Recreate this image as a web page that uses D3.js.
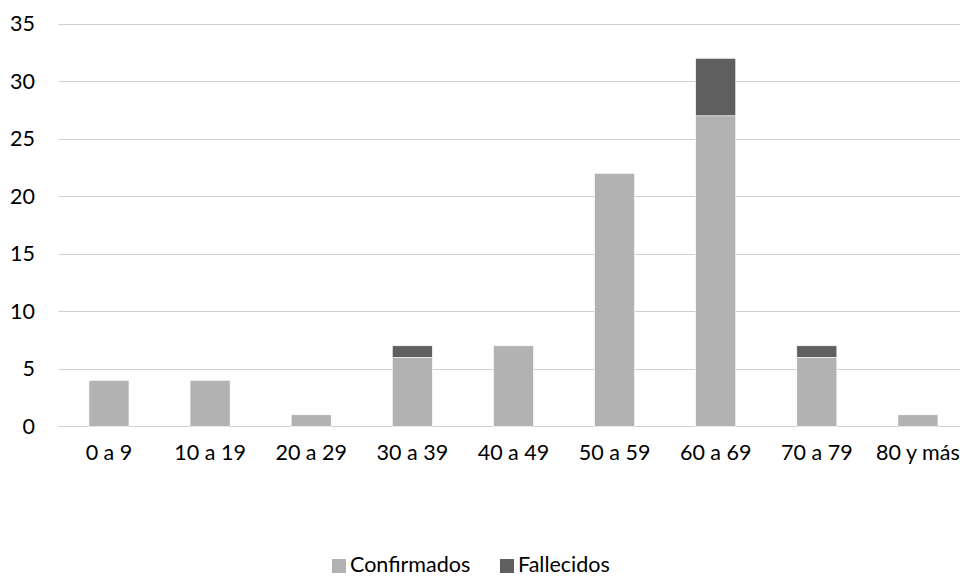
<!DOCTYPE html>
<html>
<head>
<meta charset="utf-8">
<script src="https://cdn.jsdelivr.net/npm/d3@7"></script>
<style>
  html, body { margin: 0; padding: 0; background: #fff; overflow: hidden; }
  svg { display: block; }
  text { font-family: Lato, "Open Sans", sans-serif; fill: #000; }
</style>
</head>
<body>
<svg id="chart" width="960" height="576"></svg>
<script>
const categories = ["0 a 9", "10 a 19", "20 a 29", "30 a 39", "40 a 49", "50 a 59", "60 a 69", "70 a 79", "80 y más"];
const confirmados = [4, 4, 1, 6, 7, 22, 27, 6, 1];
const fallecidos = [0, 0, 0, 1, 0, 0, 5, 1, 0];
const seriesNames = ["Confirmados", "Fallecidos"];
const seriesColors = ["#b2b2b2", "#5f5f5f"];
const yTicks = [0, 5, 10, 15, 20, 25, 30, 35];

const svg = d3.select("#chart");
const fontSize = 21.5;

const x = d3.scaleBand().domain(categories).range([58.4, 968.5]).paddingInner(0.604).paddingOuter(0.302);
const y = d3.scaleLinear().domain([0, 35]).range([426.3, 23.8]);

// gridlines
svg.append("g").selectAll("line").data(yTicks).join("line")
  .attr("x1", 58.4).attr("x2", 968.5)
  .attr("y1", d => Math.round(y(d)) + 0.5).attr("y2", d => Math.round(y(d)) + 0.5)
  .attr("stroke", "#d0d0d0").attr("stroke-width", 1.2);

// y axis labels
const yAxis = d3.axisLeft(y).tickValues(yTicks).tickSize(0).tickPadding(0);
const gy = svg.append("g").attr("transform", "translate(35,0)").call(yAxis);
gy.select(".domain").remove();
gy.selectAll("text").style("font-family", "Lato, 'Open Sans', sans-serif").style("font-size", fontSize + "px").attr("fill", "#000");

// stacked data
const table = categories.map((c, i) => ({ cat: c, Confirmados: confirmados[i], Fallecidos: fallecidos[i] }));
const stacked = d3.stack().keys(seriesNames)(table);

svg.append("g").selectAll("g").data(stacked).join("g")
  .attr("fill", (d, i) => seriesColors[i])
  .selectAll("rect").data(d => d.filter(p => p[1] > p[0])).join("rect")
  .attr("x", d => x(d.data.cat))
  .attr("width", x.bandwidth())
  .attr("y", d => y(d[1]))
  .attr("height", d => y(d[0]) - y(d[1]))
  .attr("stroke", "#ffffff").attr("stroke-width", 0.6);

// x axis labels
const xAxis = d3.axisBottom(x).tickSize(0).tickPadding(0);
const gx = svg.append("g").attr("transform", "translate(0,445)").call(xAxis);
gx.select(".domain").remove();
gx.selectAll("text").style("font-family", "Lato, 'Open Sans', sans-serif").style("font-size", fontSize + "px").attr("fill", "#000");

// legend
const legendItems = [{ name: seriesNames[0], color: seriesColors[0], x: 332 }, { name: seriesNames[1], color: seriesColors[1], x: 500 }];
const lg = svg.append("g");
legendItems.forEach(it => {
  lg.append("rect").attr("x", it.x).attr("y", 559).attr("width", 14).attr("height", 14).attr("fill", it.color);
  lg.append("text").attr("x", it.x + 18).attr("y", 572).style("font-size", fontSize + "px").text(it.name);
});
</script>
</body>
</html>
